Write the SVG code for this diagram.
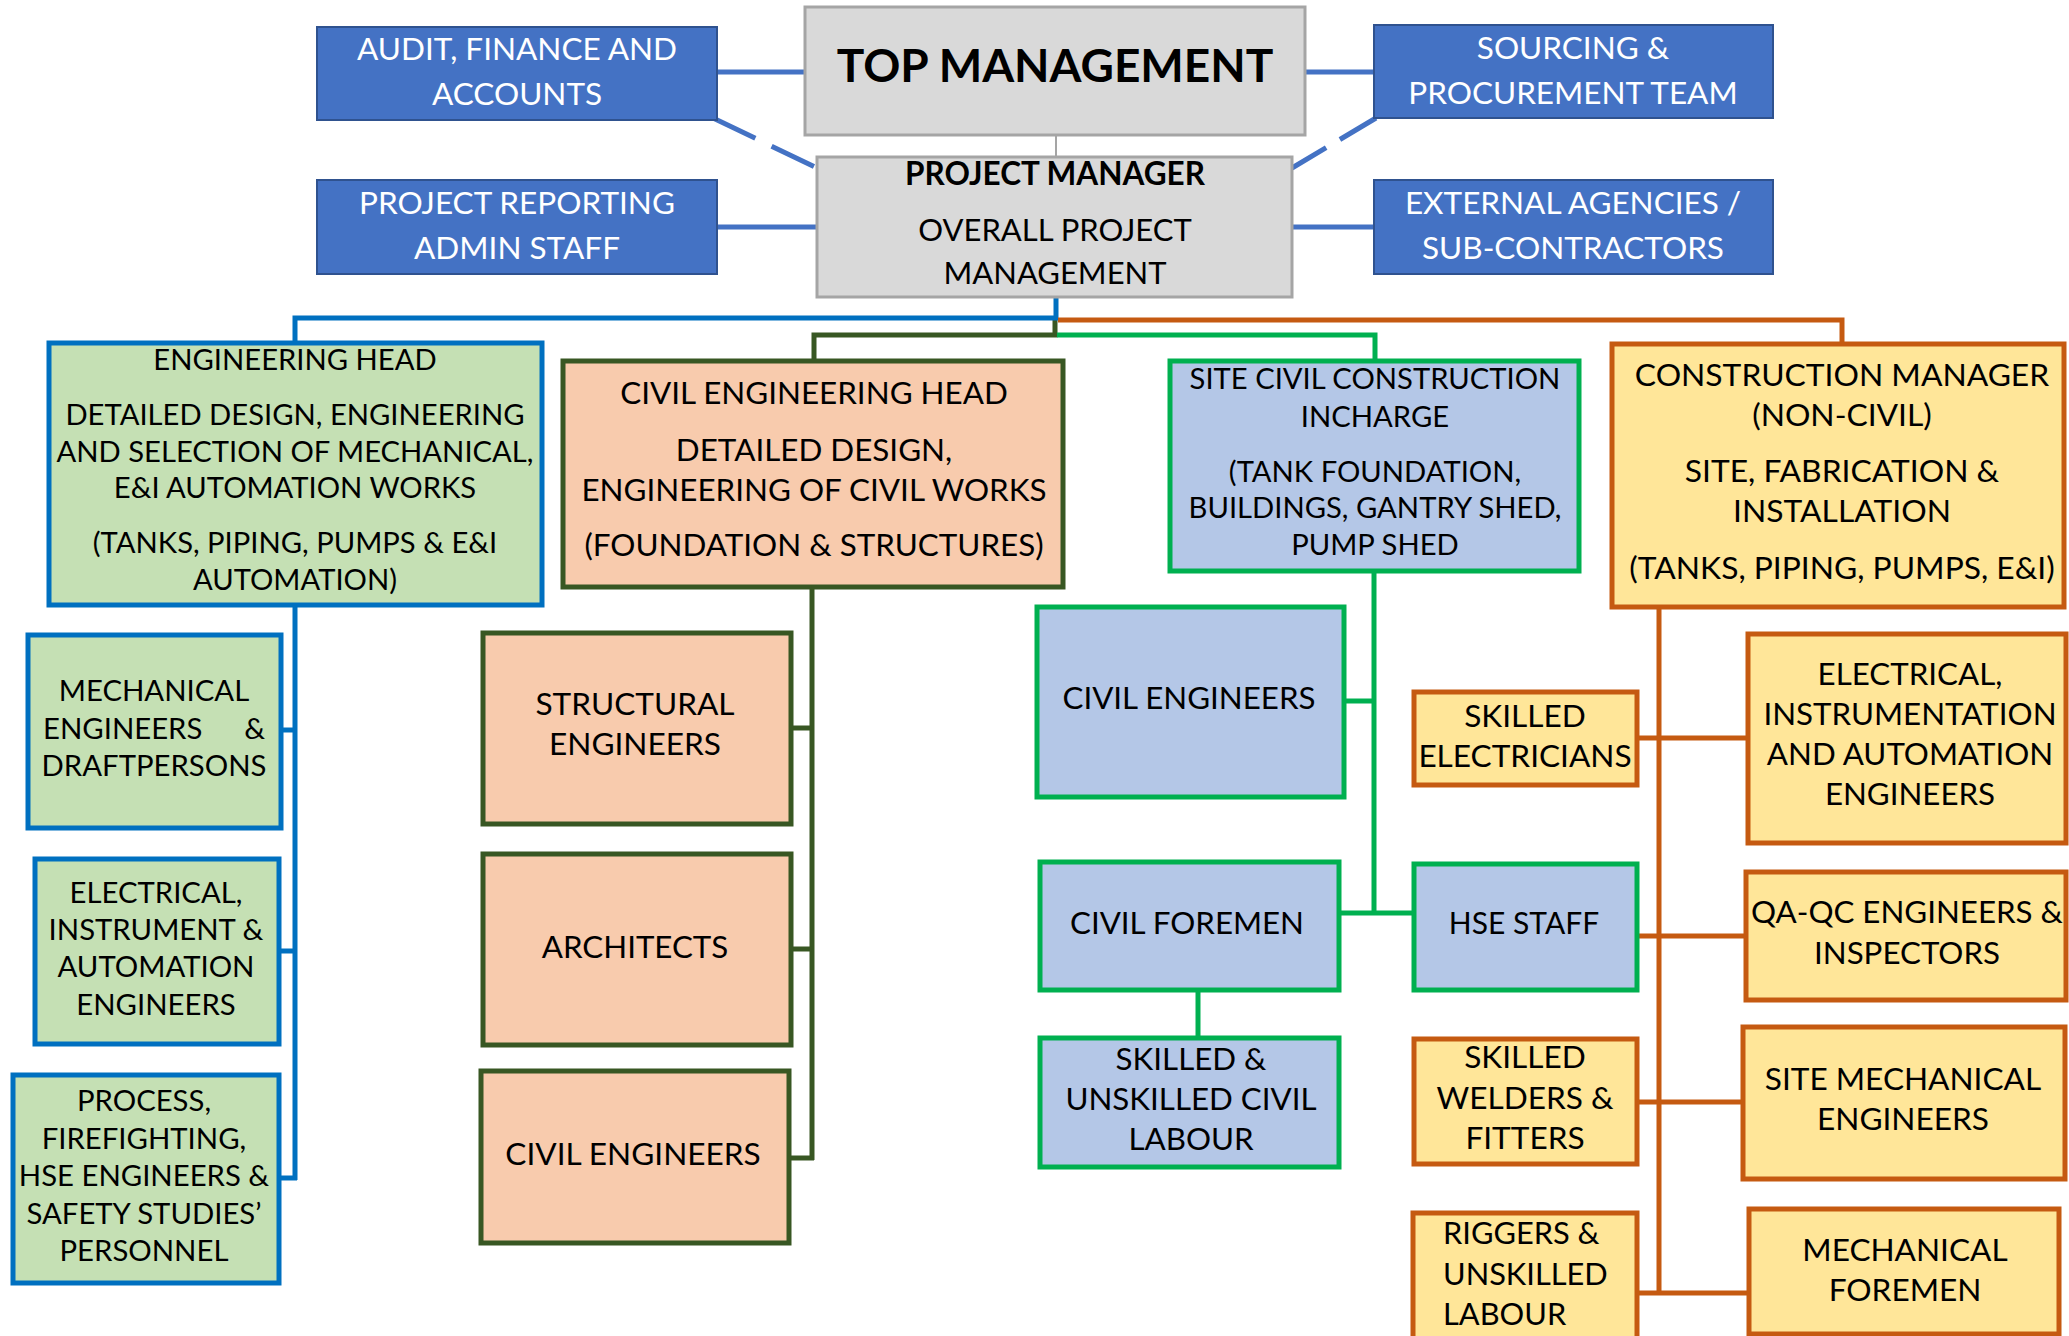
<svg xmlns="http://www.w3.org/2000/svg" width="2069" height="1336" viewBox="0 0 2069 1336">
<style>
.t{font-family:Lato,"Liberation Sans",sans-serif;font-size:28px;text-anchor:middle;fill:#000}
.w{fill:#fff;font-size:31.5px}
.b{font-weight:bold}
.s29{font-size:29.3px}
.s31{font-size:31.3px}
.s32{font-size:31.6px}
.blue{fill:#4472c4;stroke:#2f528f;stroke-width:2}
.gray{fill:#d9d9d9;stroke:#a5a5a5;stroke-width:3}
.eng{fill:#c5e0b4;stroke:#0070c0;stroke-width:5}
.civ{fill:#f8cbad;stroke:#385723;stroke-width:5}
.site{fill:#b4c7e7;stroke:#00b050;stroke-width:5}
.con{fill:#ffe699;stroke:#c55a11;stroke-width:5}
.c{fill:none;stroke-width:5}
.cb{stroke:#4472c4}
.ce{stroke:#0070c0}
.cd{stroke:#385723}
.cg{stroke:#00b050}
.co{stroke:#c55a11}
</style>
<g id="connectors">
<line class="c cb" x1="717" y1="72" x2="805" y2="72"/>
<line class="c cb" x1="1305" y1="72" x2="1374" y2="72"/>
<line class="c cb" x1="717" y1="227" x2="817" y2="227"/>
<line class="c cb" x1="1292" y1="227" x2="1374" y2="227"/>
<line class="c cb" x1="713" y1="118" x2="815" y2="167" stroke-dasharray="47 18"/>
<line class="c cb" x1="1376" y1="118" x2="1292" y2="168" stroke-dasharray="42 16"/>
<line x1="1056" y1="135" x2="1056" y2="157" stroke="#a5a5a5" stroke-width="2"/>
<polyline class="c cd" points="1055,318 1055,335 814,335 814,361"/>
<polyline class="c cg" points="1057,335 1375,335 1375,361"/>
<polyline class="c ce" points="1056,297 1056,318 295,318 295,343"/>
<polyline class="c co" points="1058,320 1842,320 1842,345"/>
<line class="c ce" x1="295" y1="605" x2="295" y2="1180"/>
<line class="c ce" x1="281" y1="730" x2="295" y2="730"/>
<line class="c ce" x1="279" y1="951" x2="295" y2="951"/>
<line class="c ce" x1="279" y1="1178" x2="297" y2="1178"/>
<line class="c cd" x1="812" y1="587" x2="812" y2="1160"/>
<line class="c cd" x1="791" y1="728" x2="812" y2="728"/>
<line class="c cd" x1="791" y1="949" x2="812" y2="949"/>
<line class="c cd" x1="789" y1="1158" x2="814" y2="1158"/>
<line class="c cg" x1="1374" y1="571" x2="1374" y2="913"/>
<line class="c cg" x1="1344" y1="701" x2="1374" y2="701"/>
<line class="c cg" x1="1339" y1="913" x2="1414" y2="913"/>
<line class="c cg" x1="1198" y1="990" x2="1198" y2="1038"/>
<line class="c co" x1="1659" y1="607" x2="1659" y2="1295"/>
<line class="c co" x1="1637" y1="738" x2="1748" y2="738"/>
<line class="c co" x1="1637" y1="936" x2="1746" y2="936"/>
<line class="c co" x1="1637" y1="1102" x2="1743" y2="1102"/>
<line class="c co" x1="1637" y1="1293" x2="1749" y2="1293"/>
</g>
<g id="audit"><rect class="blue" x="317" y="27" width="400" height="93"/>
<text class="t w"><tspan x="517" y="60">AUDIT, FINANCE AND</tspan><tspan x="517" y="105">ACCOUNTS</tspan></text></g>
<g id="sourcing"><rect class="blue" x="1374" y="25" width="399" height="93"/>
<text class="t w"><tspan x="1573" y="59">SOURCING &amp;</tspan><tspan x="1573" y="104">PROCUREMENT TEAM</tspan></text></g>
<g id="reporting"><rect class="blue" x="317" y="180" width="400" height="94"/>
<text class="t w"><tspan x="517" y="214">PROJECT REPORTING</tspan><tspan x="517" y="259">ADMIN STAFF</tspan></text></g>
<g id="external"><rect class="blue" x="1374" y="180" width="399" height="94"/>
<text class="t w"><tspan x="1573" y="214">EXTERNAL AGENCIES /</tspan><tspan x="1573" y="259">SUB-CONTRACTORS</tspan></text></g>
<g id="top"><rect class="gray" x="805" y="7" width="500" height="128"/>
<text class="t b" x="1055" y="82" style="font-size:46px">TOP MANAGEMENT</text></g>
<g id="pm"><rect class="gray" x="817" y="157" width="475" height="140"/>
<text class="t b" x="1055" y="185" style="font-size:31.5px">PROJECT MANAGER</text>
<text class="t" style="font-size:31px"><tspan x="1055" y="241">OVERALL PROJECT</tspan><tspan x="1055" y="284">MANAGEMENT</tspan></text></g>
<g id="enghead"><rect class="eng" x="49" y="343" width="493" height="262"/>
<text class="t" style="font-size:29.2px"><tspan x="295" y="370">ENGINEERING HEAD</tspan><tspan x="295" y="425">DETAILED DESIGN, ENGINEERING</tspan><tspan x="295" y="462">AND SELECTION OF MECHANICAL,</tspan><tspan x="295" y="498">E&amp;I AUTOMATION  WORKS</tspan><tspan x="295" y="553">(TANKS, PIPING, PUMPS &amp; E&amp;I</tspan><tspan x="295" y="590">AUTOMATION)</tspan></text></g>
<g id="civilhead"><rect class="civ" x="563" y="361" width="500" height="226"/>
<text class="t" style="font-size:31.4px"><tspan x="814" y="404">CIVIL ENGINEERING HEAD</tspan><tspan x="814" y="461">DETAILED DESIGN,</tspan><tspan x="814" y="501">ENGINEERING OF CIVIL WORKS</tspan><tspan x="814" y="556">(FOUNDATION &amp; STRUCTURES)</tspan></text></g>
<g id="sitecivil"><rect class="site" x="1170" y="361" width="409" height="210"/>
<text class="t" style="font-size:29.2px"><tspan x="1375" y="389">SITE CIVIL CONSTRUCTION</tspan><tspan x="1375" y="427">INCHARGE</tspan><tspan x="1375" y="482">(TANK FOUNDATION,</tspan><tspan x="1375" y="518">BUILDINGS, GANTRY SHED,</tspan><tspan x="1375" y="555">PUMP SHED</tspan></text></g>
<g id="constmgr"><rect class="con" x="1612" y="344" width="452" height="263"/>
<text class="t" style="font-size:31.8px"><tspan x="1842" y="386">CONSTRUCTION MANAGER</tspan><tspan x="1842" y="426">(NON-CIVIL)</tspan><tspan x="1842" y="482">SITE, FABRICATION &amp;</tspan><tspan x="1842" y="522">INSTALLATION</tspan><tspan x="1842" y="579">(TANKS, PIPING, PUMPS, E&amp;I)</tspan></text></g>
<g id="mech"><rect class="eng" x="28" y="635" width="253" height="193"/>
<text class="t s29"><tspan x="154" y="701">MECHANICAL</tspan><tspan x="43" y="739" style="text-anchor:start">ENGINEERS</tspan><tspan x="265" y="739" style="text-anchor:end">&amp;</tspan><tspan x="154" y="776">DRAFTPERSONS</tspan></text></g>
<g id="elecinst"><rect class="eng" x="35" y="859" width="244" height="185"/>
<text class="t s29"><tspan x="156" y="903">ELECTRICAL,</tspan><tspan x="156" y="940">INSTRUMENT &amp;</tspan><tspan x="156" y="977">AUTOMATION</tspan><tspan x="156" y="1015">ENGINEERS</tspan></text></g>
<g id="process"><rect class="eng" x="13" y="1075" width="266" height="208"/>
<text class="t s29"><tspan x="144" y="1111">PROCESS,</tspan><tspan x="144" y="1149">FIREFIGHTING,</tspan><tspan x="144" y="1186">HSE ENGINEERS &amp;</tspan><tspan x="144" y="1224">SAFETY STUDIES’</tspan><tspan x="144" y="1261">PERSONNEL</tspan></text></g>
<g id="structural"><rect class="civ" x="483" y="633" width="308" height="191"/>
<text class="t s32"><tspan x="635" y="715">STRUCTURAL</tspan><tspan x="635" y="755">ENGINEERS</tspan></text></g>
<g id="architects"><rect class="civ" x="483" y="854" width="308" height="191"/>
<text class="t s31" x="635" y="958">ARCHITECTS</text></g>
<g id="civileng1"><rect class="civ" x="481" y="1071" width="308" height="172"/>
<text class="t s32" x="633" y="1165">CIVIL ENGINEERS</text></g>
<g id="civileng2"><rect class="site" x="1037" y="607" width="307" height="190"/>
<text class="t s31" x="1189" y="709">CIVIL ENGINEERS</text></g>
<g id="foremen"><rect class="site" x="1040" y="862" width="299" height="128"/>
<text class="t s31" x="1187" y="934">CIVIL FOREMEN</text></g>
<g id="hse"><rect class="site" x="1414" y="864" width="223" height="126"/>
<text class="t" x="1524" y="934" style="font-size:30px">HSE STAFF</text></g>
<g id="civillabour"><rect class="site" x="1040" y="1038" width="299" height="129"/>
<text class="t s31"><tspan x="1191" y="1070">SKILLED &amp;</tspan><tspan x="1191" y="1110">UNSKILLED CIVIL</tspan><tspan x="1191" y="1150">LABOUR</tspan></text></g>
<g id="electricians"><rect class="con" x="1414" y="692" width="223" height="93"/>
<text class="t s32"><tspan x="1525" y="727">SKILLED</tspan><tspan x="1525" y="767">ELECTRICIANS</tspan></text></g>
<g id="welders"><rect class="con" x="1414" y="1039" width="223" height="125"/>
<text class="t s32"><tspan x="1525" y="1068">SKILLED</tspan><tspan x="1525" y="1109">WELDERS &amp;</tspan><tspan x="1525" y="1149">FITTERS</tspan></text></g>
<g id="riggers"><rect class="con" x="1413" y="1213" width="224" height="135"/>
<text class="t" style="text-anchor:start;font-size:30.8px"><tspan x="1443" y="1244">RIGGERS &amp;</tspan><tspan x="1443" y="1285">UNSKILLED</tspan><tspan x="1443" y="1325">LABOUR</tspan></text></g>
<g id="eiaeng"><rect class="con" x="1748" y="634" width="318" height="209"/>
<text class="t s31"><tspan x="1910" y="685">ELECTRICAL,</tspan><tspan x="1910" y="725">INSTRUMENTATION</tspan><tspan x="1910" y="765">AND AUTOMATION</tspan><tspan x="1910" y="805">ENGINEERS</tspan></text></g>
<g id="qaqc"><rect class="con" x="1746" y="872" width="320" height="128"/>
<text class="t s31"><tspan x="1907" y="923">QA-QC ENGINEERS &amp;</tspan><tspan x="1907" y="964">INSPECTORS</tspan></text></g>
<g id="sitemech"><rect class="con" x="1743" y="1027" width="322" height="152"/>
<text class="t s32"><tspan x="1903" y="1090">SITE MECHANICAL</tspan><tspan x="1903" y="1130">ENGINEERS</tspan></text></g>
<g id="mechforemen"><rect class="con" x="1749" y="1209" width="310" height="125"/>
<text class="t s32"><tspan x="1905" y="1261">MECHANICAL</tspan><tspan x="1905" y="1301">FOREMEN</tspan></text></g>
</svg>
